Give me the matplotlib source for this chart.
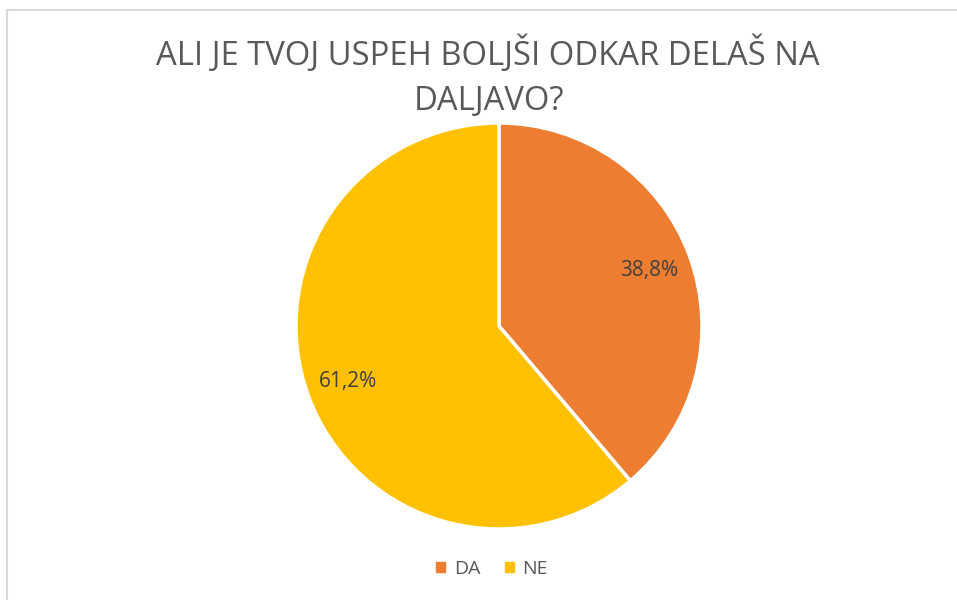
import numpy as np
from matplotlib import pyplot as plt
from matplotlib.patches import Rectangle

labels = ["DA", "NE"]
values = [38.8, 61.2]
colors = ["#ED7D31", "#FFC000"]
title_lines = ["ALI JE TVOJ USPEH BOLJŠI ODKAR DELAŠ NA", "DALJAVO?"]

W, H = 957, 600
plt.rcParams['font.family'] = ['Open Sans', 'DejaVu Sans']

fig = plt.figure(figsize=(W / 100, H / 100), dpi=100)
fig.patch.set_facecolor("white")

# chart border (only left and top visible in the reference)
fig.patches.append(Rectangle((7 / W, -0.1), 1.2, (H - 10) / H + 0.1, transform=fig.transFigure,
                             fill=False, edgecolor="#D9D9D9", linewidth=1.5))

# pie centre (499, 326), radius 203 px
cx, cy, r = 499, 326, 203
ax = fig.add_axes([(cx - r) / W, (H - cy - r) / H, 2 * r / W, 2 * r / H])
wedges, _ = ax.pie(values, colors=colors, startangle=90, counterclock=False,
                   wedgeprops=dict(edgecolor="white", linewidth=2.5))
ax.set_xlim(-1, 1)
ax.set_ylim(-1, 1)
ax.set_aspect("auto")

# data labels
cum = 0
for v, w in zip(values, wedges):
    mid = 90 - (cum + v / 2) * 3.6
    cum += v
    x, y = 0.79 * np.cos(np.radians(mid)), 0.79 * np.sin(np.radians(mid))
    ax.text(x, y, ("%.1f%%" % v).replace(".", ","), ha="center", va="center",
            fontsize=15, color="#404040")

# title, two lines placed on their baselines
fig.text(487.5 / W, 1 - 65 / H, title_lines[0], ha="center", va="baseline", fontsize=23.6,
         color="#595959")
fig.text(489 / W, 1 - 110 / H, title_lines[1], ha="center", va="baseline", fontsize=23.6,
         color="#595959")

handles = [Rectangle((0, 0), 1, 1, color=c) for c in colors]
fig.legend(handles, labels, loc="center", bbox_to_anchor=(492 / W, 1 - 569 / H), ncol=2,
           frameon=False, fontsize=14, handlelength=0.46, handleheight=0.46,
           handletextpad=0.46, columnspacing=1.24, labelcolor="#595959",
           borderpad=0, borderaxespad=0)

fig.savefig("out.png", dpi=100)
